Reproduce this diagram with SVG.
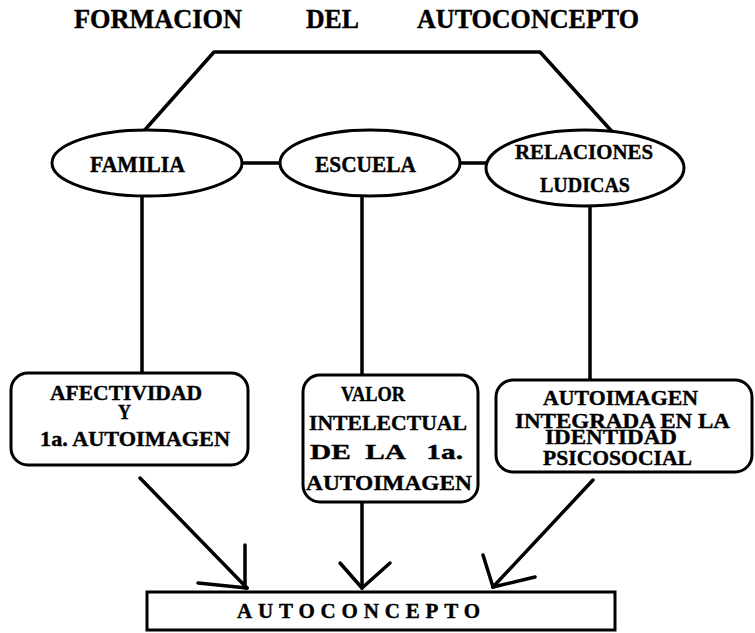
<svg xmlns="http://www.w3.org/2000/svg" width="755" height="633" viewBox="0 0 755 633">
<style>
.t{font-family:"Liberation Serif","Times New Roman",serif;font-weight:bold;fill:#000;stroke:#000;stroke-width:0.4}
.s{fill:#fff;stroke:#000;stroke-width:3}
.c{fill:none;stroke:#000;stroke-width:3.5;stroke-linecap:round;stroke-linejoin:round}
</style>
<rect width="755" height="633" fill="#fff"/>
<g id="title">
<text class="t" x="74" y="28" font-size="27" textLength="168" lengthAdjust="spacingAndGlyphs">FORMACION</text>
<text class="t" x="306" y="28" font-size="27" textLength="53" lengthAdjust="spacingAndGlyphs">DEL</text>
<text class="t" x="417" y="28" font-size="27" textLength="222" lengthAdjust="spacingAndGlyphs">AUTOCONCEPTO</text>
</g>
<g id="connectors">
<polyline class="c" points="143,132 214,52 540,52 616,136"/>
<line class="c" x1="242" y1="163" x2="280" y2="163"/>
<line class="c" x1="460" y1="163" x2="486" y2="163"/>
<line class="c" x1="142" y1="196" x2="142" y2="372"/>
<line class="c" x1="362" y1="196" x2="362" y2="375"/>
<line class="c" x1="590" y1="206" x2="590" y2="380"/>
<line class="c" x1="140" y1="478" x2="247" y2="588"/>
<line class="c" x1="245" y1="545" x2="245" y2="588"/>
<line class="c" x1="198" y1="583" x2="247" y2="588"/>
<line class="c" x1="362" y1="503" x2="362" y2="588"/>
<line class="c" x1="340" y1="563" x2="362" y2="588"/>
<line class="c" x1="390" y1="563" x2="362" y2="588"/>
<line class="c" x1="593" y1="480" x2="493" y2="587"/>
<line class="c" x1="483" y1="555" x2="493" y2="587"/>
<line class="c" x1="535" y1="577" x2="493" y2="587"/>
</g>
<g id="familia">
<ellipse class="s" cx="147" cy="163" rx="95" ry="33"/>
<text class="t" x="90" y="172" font-size="23" textLength="95" lengthAdjust="spacingAndGlyphs">FAMILIA</text>
</g>
<g id="escuela">
<ellipse class="s" cx="370" cy="163" rx="90" ry="33"/>
<text class="t" x="315" y="172" font-size="23" textLength="101" lengthAdjust="spacingAndGlyphs">ESCUELA</text>
</g>
<g id="relaciones">
<ellipse class="s" cx="585" cy="168" rx="99" ry="38"/>
<text class="t" x="515" y="159" font-size="22" textLength="138" lengthAdjust="spacingAndGlyphs">RELACIONES</text>
<text class="t" x="540" y="192" font-size="22" textLength="90" lengthAdjust="spacingAndGlyphs">LUDICAS</text>
</g>
<g id="afectividad">
<rect class="s" x="11" y="373" width="237" height="92" rx="17"/>
<text class="t" x="50" y="400" font-size="22" textLength="152" lengthAdjust="spacingAndGlyphs">AFECTIVIDAD</text>
<text class="t" x="118" y="419" font-size="22" textLength="13" lengthAdjust="spacingAndGlyphs">Y</text>
<text class="t" x="40" y="446" font-size="22" textLength="190" lengthAdjust="spacingAndGlyphs">1a. AUTOIMAGEN</text>
</g>
<g id="valor">
<rect class="s" x="303" y="375" width="175" height="127" rx="17"/>
<text class="t" x="341" y="401" font-size="22" textLength="64" lengthAdjust="spacingAndGlyphs">VALOR</text>
<text class="t" x="309" y="430" font-size="22" textLength="158" lengthAdjust="spacingAndGlyphs">INTELECTUAL</text>
<text class="t" x="310" y="459" font-size="22" textLength="153" lengthAdjust="spacingAndGlyphs" xml:space="preserve">DE  LA   1a.</text>
<text class="t" x="306" y="490" font-size="22" textLength="166" lengthAdjust="spacingAndGlyphs">AUTOIMAGEN</text>
</g>
<g id="psicosocial">
<rect class="s" x="496" y="380" width="256" height="92" rx="17"/>
<text class="t" x="543" y="405" font-size="22" textLength="155" lengthAdjust="spacingAndGlyphs">AUTOIMAGEN</text>
<text class="t" x="515" y="428" font-size="22" textLength="215" lengthAdjust="spacingAndGlyphs">INTEGRADA EN LA</text>
<text class="t" x="545" y="444" font-size="22" textLength="132" lengthAdjust="spacingAndGlyphs">IDENTIDAD</text>
<text class="t" x="543" y="465" font-size="22" textLength="149" lengthAdjust="spacingAndGlyphs">PSICOSOCIAL</text>
</g>
<g id="autoconcepto">
<rect class="s" x="147" y="592" width="468" height="38"/>
<text class="t" x="237" y="618" font-size="21" textLength="243" lengthAdjust="spacing">AUTOCONCEPTO</text>
</g>
</svg>
